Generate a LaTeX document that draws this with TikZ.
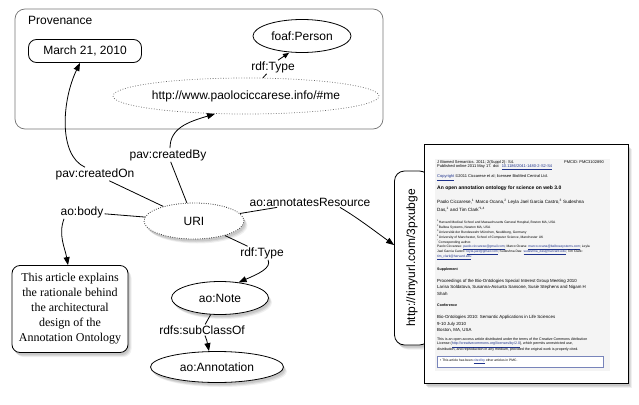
\documentclass[tikz,border=0pt]{standalone}
\usepackage{fontspec}
\setmainfont{Liberation Sans}
\newfontfamily\serifbox{Liberation Serif}
\usetikzlibrary{shapes.geometric,arrows.meta,shadows}
\definecolor{lnkc}{RGB}{30,50,140}
\definecolor{pagegray}{RGB}{244,244,244}
\newcommand{\lk}[1]{\textcolor{lnkc}{\underline{#1}}}
\begin{document}
\begin{tikzpicture}[x=1pt,y=-1pt,
  every node/.style={font=\fontsize{12}{14}\selectfont},
  conn/.style={line width=0.8pt},
  arr/.style={conn,-{Triangle[length=8pt,width=6pt]}},
  lbl/.style={inner sep=1pt},
  shad/.style={drop shadow={shadow xshift=3.5pt,shadow yshift=-4.5pt,opacity=0.12},
               drop shadow={shadow xshift=2.5pt,shadow yshift=-3.5pt,opacity=0.18},
               drop shadow={shadow xshift=1.5pt,shadow yshift=-2.5pt,opacity=0.22}},
  ell/.style={ellipse,draw,line width=0.8pt,inner sep=0pt,fill=white},
  dotell/.style={ellipse,draw=black!60,line width=0.7pt,dash pattern=on 0.8pt off 1.8pt,inner sep=0pt},
  rbox/.style={rectangle,rounded corners=8pt,draw,line width=0.8pt,fill=white,inner sep=0pt},
  pg/.style={anchor=west,inner sep=0pt,font=\fontsize{4}{4}\selectfont},
  pgs/.style={anchor=west,inner sep=0pt,font=\fontsize{3.3}{3.3}\selectfont}
]
\useasboundingbox (0,0) rectangle (639,404);

% Provenance group
\node[rectangle,rounded corners=10pt,draw=black!55,line width=0.7pt,minimum width=368pt,minimum height=120pt] (prov) at (199,69) {};
\node[anchor=west,inner sep=0pt] (provlbl) at (28,20) {Provenance};
\node[rbox,minimum width=113pt,minimum height=23pt] (march) at (85,51) {March 21, 2010};
\node[ell,minimum width=98pt,minimum height=33pt] (foaf) at (302,36) {foaf:Person};
\node[dotell,minimum width=261pt,minimum height=36pt] (me) at (246,96) {http://www.paolociccarese.info/\#me};
\node[lbl] (rt1) at (273,67) {rdf:Type};

% main nodes
\node[ell,draw=black!80,dash pattern=on 0.8pt off 1.5pt,shad,minimum width=100pt,minimum height=36pt] (uri) at (194,221) {URI};
\node[rbox,shad,minimum width=116pt,minimum height=87pt,align=center,font=\serifbox\fontsize{12}{15}\selectfont] (txt) at (70,309)
  {This article explains\\the rationale behind\\the architectural\\design of the\\Annotation Ontology};
\node[ell,shad,minimum width=97pt,minimum height=33pt] (note) at (220,298) {ao:Note};
\node[ell,shad,minimum width=133pt,minimum height=31pt] (annot) at (217,367) {ao:Annotation};
\node[rectangle,rounded corners=10pt,draw,line width=0.8pt,fill=white,shad,inner sep=0pt,minimum width=35pt,minimum height=174pt] (tiny) at (412,258)
  {\rotatebox{90}{http://tinyurl.com/3pxubge}};

% edge labels
\node[lbl] (con) at (95,174) {pav:createdOn};
\node[lbl] (cby) at (168,155) {pav:createdBy};
\node[lbl] (body) at (82,212) {ao:body};
\node[lbl] (ann) at (310,202) {ao:annotatesResource};
\node[lbl] (rt2) at (262,253) {rdf:Type};
\node[lbl] (sub) at (202,330) {rdfs:subClassOf};

% connectors
\draw[conn] (me) -- (rt1);
\draw[arr,-{Triangle[length=6pt,width=5pt]}] ([xshift=5pt]rt1.north) -- ([xshift=-13pt]foaf.south);
\draw[conn] (uri) -- (con);
\draw[arr] ([xshift=-10pt]con.north) .. controls (58,155) and (62,100) .. ([xshift=-5pt]march.south);
\draw[conn] (uri) -- (cby);
\draw[arr] ([xshift=2pt]cby.north) .. controls (170,128) and (188,122) .. ([xshift=-31pt,yshift=0.5pt]me.south);
\draw[conn] (uri) -- (body);
\draw[arr] ([xshift=-18pt]body.south) .. controls (58,235) and (65,248) .. ([xshift=-2pt]txt.north);
\draw[conn] (uri) -- (ann);
\draw[arr] ([xshift=30pt]ann.south) .. controls (358,218) and (376,232) .. ([yshift=13pt]tiny.west);
\draw[conn] (uri) -- (rt2);
\draw[arr] ([xshift=6pt]rt2.south) .. controls (272,268) and (258,274) .. (note.40);
\draw[conn] (note) -- (sub);
\draw[arr] ([xshift=3pt]sub.south) .. controls (207,341) .. ([xshift=-8pt]annot.north);

% article page
\node[rectangle,draw,line width=1pt,fill=white,shad,minimum width=204pt,minimum height=239pt,inner sep=0pt] (page) at (526,263.5) {};
\fill[pagegray] (435,159) rectangle (610,371);
\node[pg] (p1) at (437,162) {J Biomed Semantics. 2011; 2(Suppl 2): S4.};
\node[pg,anchor=east] (p1b) at (604,162) {PMCID: PMC3102890};
\node[pg] (p2) at (437,167.5) {Published online 2011 May 17. doi:\ \ \lk{10.1186/2041-1480-2-S2-S4}};
\node[pg] (p3) at (437,177.5) {\lk{Copyright} ©2011 Ciccarese et al; licensee BioMed Central Ltd.};
\node[pg,font=\bfseries\fontsize{5}{5}\selectfont] (p4) at (437,188.5) {An open annotation ontology for science on web 3.0};
\node[pg,font=\fontsize{4.6}{4.6}\selectfont] (p5) at (437,201.5) {Paolo Ciccarese,\textsuperscript{1} Marco Ocana,\textsuperscript{2} Leyla Jael Garcia Castro,\textsuperscript{3} Sudeshna};
\node[pg,font=\fontsize{4.6}{4.6}\selectfont] (p6) at (437,209.5) {Das,\textsuperscript{1} and Tim Clark\textsuperscript{*1,4}};
\node[pgs] (a1) at (437,221.7) {\textsuperscript{1}Harvard Medical School and Massachusetts General Hospital, Boston MA, USA};
\node[pgs] (a2) at (437,226.7) {\textsuperscript{2}Balboa Systems, Newton MA, USA};
\node[pgs] (a3) at (437,231.7) {\textsuperscript{3}Universität der Bundeswehr München, Neubiberg, Germany};
\node[pgs] (a4) at (437,236.7) {\textsuperscript{4}University of Manchester, School of Computer Science, Manchester UK};
\node[pgs] (a5) at (437,241.7) {\textsuperscript{*}Corresponding author.};
\node[pgs] (e1) at (437,247.3) {Paolo Ciccarese: \lk{paolo.ciccarese@gmail.com}; Marco Ocana: \lk{marco.ocana@balboasystems.com}; Leyla};
\node[pgs] (e2) at (437,252.3) {Jael Garcia Castro: \lk{leyla.jael@gmail.com}; Sudeshna Das: \lk{sudeshna\_das@harvard.edu}; Tim Clark:};
\node[pgs] (e3) at (437,257.3) {\lk{tim\_clark@harvard.edu}};
\node[pg,font=\bfseries\fontsize{3.6}{3.6}\selectfont] (s1) at (437,269.3) {Supplement};
\node[pg,font=\fontsize{4.4}{4.4}\selectfont] (s2) at (437,281) {Proceedings of the Bio-Ontologies Special Interest Group Meeting 2010};
\node[pg,font=\fontsize{4.4}{4.4}\selectfont] (s3) at (437,287.3) {Larisa Soldatova, Susanna-Assunta Sansone, Susie Stephens and Nigam H};
\node[pg,font=\fontsize{4.4}{4.4}\selectfont] (s4) at (437,294) {Shah};
\node[pg,font=\bfseries\fontsize{3.6}{3.6}\selectfont] (c1) at (437,305) {Conference};
\node[pg,font=\fontsize{4.4}{4.4}\selectfont] (c2) at (437,317.3) {Bio-Ontologies 2010: Semantic Applications in Life Sciences};
\node[pg,font=\fontsize{4.4}{4.4}\selectfont] (c3) at (437,324) {9-10 July 2010};
\node[pg,font=\fontsize{4.4}{4.4}\selectfont] (c4) at (437,330) {Boston, MA, USA};
\node[pgs,font=\fontsize{3.6}{3.6}\selectfont] (l1) at (437,339.7) {This is an open access article distributed under the terms of the Creative Commons Attribution};
\node[pgs,font=\fontsize{3.6}{3.6}\selectfont] (l2) at (437,344.7) {License (\lk{http://creativecommons.org/licenses/by/2.0}), which permits unrestricted use,};
\node[pgs,font=\fontsize{3.6}{3.6}\selectfont] (l3) at (437,349.7) {distribution, and reproduction in any medium, provided the original work is properly cited.};
\node[rectangle,draw=lnkc!60,line width=0.6pt,fill=white,minimum width=166pt,minimum height=11pt,inner sep=0pt] (cited) at (520,361.5) {};
\node[pgs] (ct) at (440,361.5) {• This article has been \lk{cited by} other articles in PMC.};
\end{tikzpicture}
\end{document}
